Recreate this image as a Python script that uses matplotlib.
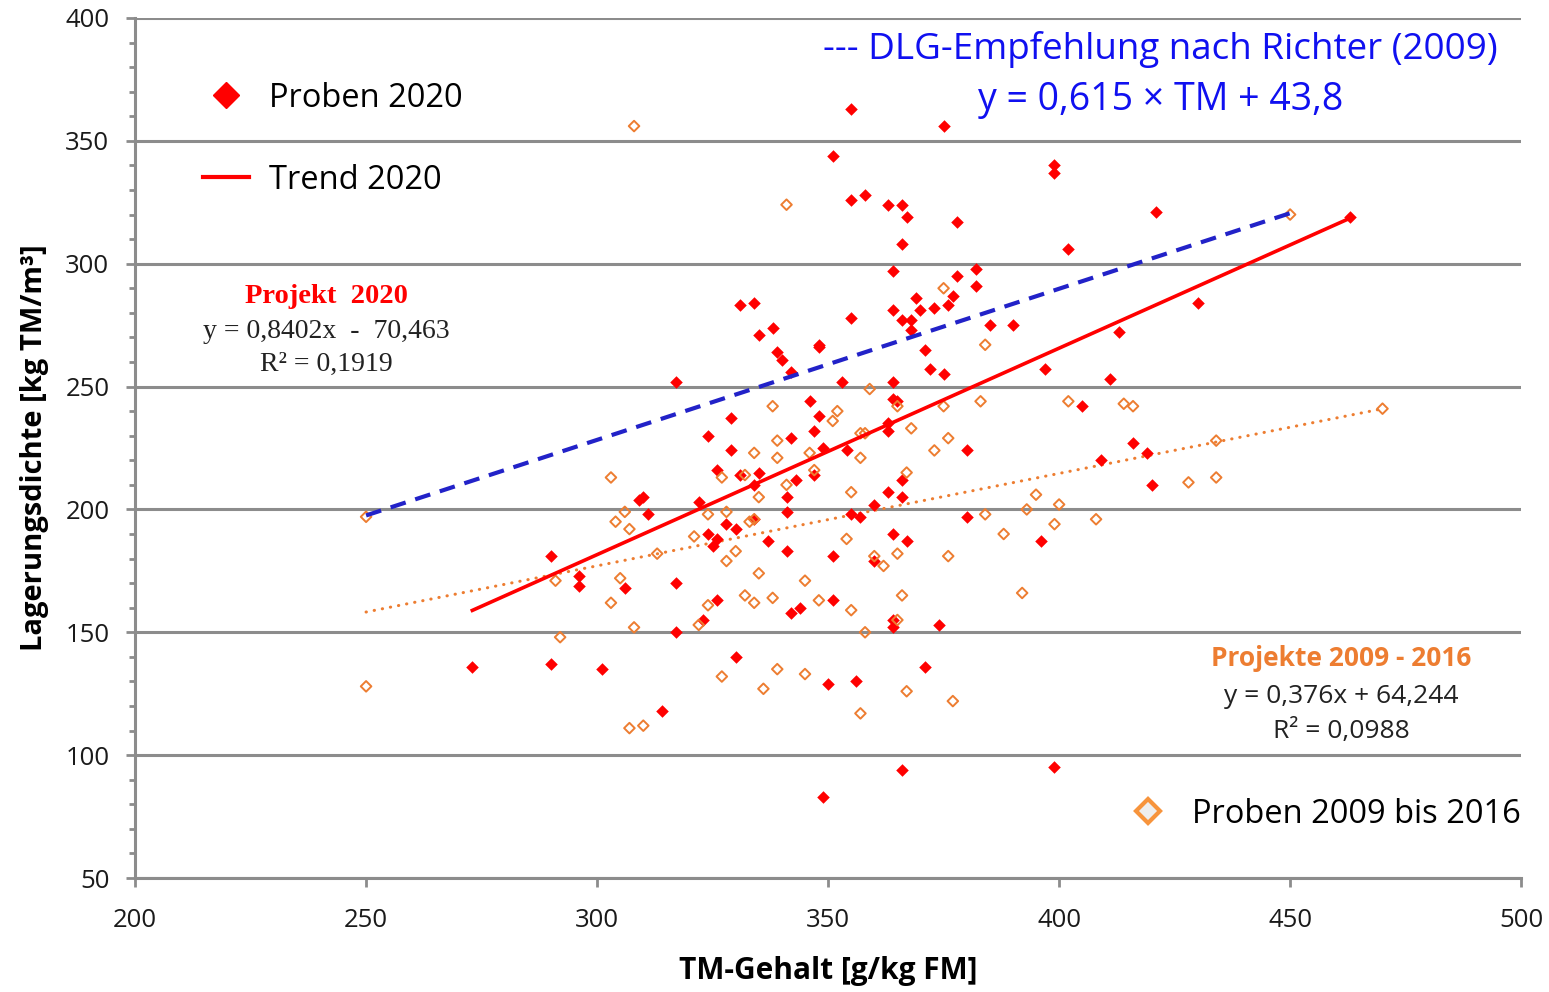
import numpy as np
import matplotlib.pyplot as plt
from matplotlib.lines import Line2D

# TM-Gehalt [g/kg FM] / Lagerungsdichte [kg TM/m3], Proben 2020
tm_2020 = [355, 375, 351, 399, 399, 355, 358, 363, 366, 367, 378, 421, 463, 366, 402,
           364, 378, 382, 382, 369, 377, 376, 373, 370, 364, 355, 366, 368, 368, 385,
           390, 331, 334, 335, 338, 339, 340, 342, 317, 348, 348, 371, 372, 375, 353,
           364, 346, 364, 365, 348, 347, 363, 363, 380, 349, 354, 329, 324, 342, 329,
           430, 413, 397, 411, 405, 416, 419, 409, 420, 396, 399, 326, 331, 335, 334,
           343, 341, 341, 309, 310, 311, 322, 328, 330, 334, 324, 326, 325, 337, 341,
           296, 296, 306, 317, 326, 342, 344, 323, 317, 330, 301, 314, 290, 273, 290,
           347, 366, 363, 366, 360, 355, 357, 380, 364, 367, 351, 360, 351, 364, 364,
           374, 350, 356, 371, 366, 349]
dichte_2020 = [363, 356, 344, 340, 337, 326, 328, 324, 324, 319, 317, 321, 319, 308, 306,
               297, 295, 298, 291, 286, 287, 283, 282, 281, 281, 278, 277, 277, 273, 275,
               275, 283, 284, 271, 274, 264, 261, 256, 252, 267, 266, 265, 257, 255, 252,
               252, 244, 245, 244, 238, 232, 235, 232, 224, 225, 224, 237, 230, 229, 224,
               284, 272, 257, 253, 242, 227, 223, 220, 210, 187, 95, 216, 214, 215, 210,
               212, 205, 199, 204, 205, 198, 203, 194, 192, 196, 190, 188, 185, 187, 183,
               173, 169, 168, 170, 163, 158, 160, 155, 150, 140, 135, 118, 181, 136, 137,
               214, 212, 207, 205, 202, 198, 197, 197, 190, 187, 181, 179, 163, 155, 152,
               153, 129, 130, 136, 94, 83]

# Proben 2009 bis 2016
tm_alt = [308, 341, 450, 375, 384, 359, 365, 352, 351, 375, 383, 357, 358, 368, 376,
          373, 346, 357, 338, 339, 334, 339, 303, 327, 332, 341, 335, 306, 304, 307,
          324, 328, 333, 334, 321, 330, 328, 313, 305, 303, 335, 324, 332, 334, 338,
          345, 322, 308, 339, 345, 327, 336, 307, 310, 250, 291, 292, 250, 470, 402,
          414, 416, 434, 428, 434, 395, 400, 399, 408, 393, 347, 367, 355, 384, 388,
          354, 360, 365, 362, 376, 348, 355, 366, 365, 358, 367, 377, 357, 392]
dichte_alt = [356, 324, 320, 290, 267, 249, 242, 240, 236, 242, 244, 231, 231, 233, 229,
              224, 223, 221, 242, 228, 223, 221, 213, 213, 214, 210, 205, 199, 195, 192,
              198, 199, 195, 196, 189, 183, 179, 182, 172, 162, 174, 161, 165, 162, 164,
              171, 153, 152, 135, 133, 132, 127, 111, 112, 197, 171, 148, 128, 241, 244,
              243, 242, 228, 211, 213, 206, 202, 194, 196, 200, 216, 215, 207, 198, 190,
              188, 181, 182, 177, 181, 163, 159, 165, 155, 150, 126, 122, 117, 166]

# regression / reference lines (slope, intercept)
trend_2020 = (0.8402, -70.463)
trend_alt = (0.376, 64.244)
dlg = (0.615, 43.8)
dlg_tm = [250, 450]

red = '#FF0000'
orange = '#ED7D31'
blue = '#2222C8'
text_blue = '#1010F0'
grid_grey = '#8C8C8C'

plt.rcParams['font.family'] = ['Open Sans', 'DejaVu Sans']

fig = plt.figure(figsize=(15.49, 9.92), dpi=100)
ax = fig.add_axes([0.0872, 0.1149, 0.8948, 0.8670])

ax.set_xlim(200, 500)
ax.set_ylim(50, 400)
ax.set_xticks(np.arange(200, 501, 50))
ax.set_yticks(np.arange(50, 401, 50))
ax.set_yticks(np.arange(50, 401, 10), minor=True)

ax.grid(axis='y', which='major', color=grid_grey, lw=2.2, zorder=0)
for side in ['top', 'right']:
    ax.spines[side].set_visible(False)
for side in ['left', 'bottom']:
    ax.spines[side].set_color(grid_grey)
    ax.spines[side].set_linewidth(2.2)
ax.tick_params(axis='both', which='major', direction='out', length=6.5, width=2,
               color=grid_grey, labelsize=18.5, labelcolor='#1a1a1a')
ax.tick_params(axis='y', which='major', pad=12)
ax.tick_params(axis='x', which='major', pad=15)
ax.tick_params(axis='y', which='minor', direction='out', length=4.3, width=2, color=grid_grey)

# trend lines over the sampled TM range
x20 = np.array([min(tm_2020), max(tm_2020)])
xalt = np.array([min(tm_alt), max(tm_alt)])
xdlg = np.array(dlg_tm)
ax.plot(xalt, trend_alt[0] * xalt + trend_alt[1], color=orange, lw=2.2,
        linestyle=(0, (0.1, 2.6)), dash_capstyle='round', zorder=2.5)

ax.scatter(tm_2020, dichte_2020, marker='D', s=6.4 ** 2, color=red, linewidths=0, zorder=3)
ax.scatter(tm_alt, dichte_alt, marker='D', s=5.4 ** 2, facecolors='none',
           edgecolors=orange, linewidths=1.4, zorder=4)

ax.plot(x20, trend_2020[0] * x20 + trend_2020[1], color=red, lw=2.6, zorder=5)
ax.plot(xdlg, dlg[0] * xdlg + dlg[1], color=blue, lw=3, dashes=(3.8, 2.4), zorder=5)

ax.set_xlabel('TM-Gehalt [g/kg FM]', fontsize=21.5, fontweight='bold', labelpad=17)
ax.set_ylabel('Lagerungsdichte [kg TM/m³]', fontsize=21, fontweight='bold', labelpad=12)

# equation boxes
ax.text(0.740, 0.963, '--- DLG-Empfehlung nach Richter (2009)', transform=ax.transAxes,
        ha='center', va='center', fontsize=26.5, color=text_blue)
ax.text(0.740, 0.905, 'y = 0,615 × TM + 43,8', transform=ax.transAxes,
        ha='center', va='center', fontsize=27, color=text_blue)

serif = ['Liberation Serif', 'DejaVu Serif']
ax.text(0.1378, 0.676, 'Projekt  2020', transform=ax.transAxes, ha='center', va='center',
        fontsize=20.5, fontweight='bold', color=red, family=serif)
ax.text(0.1378, 0.635, 'y = 0,8402x  -  70,463', transform=ax.transAxes, ha='center',
        va='center', fontsize=20, color='#222222', family=serif)
ax.text(0.1378, 0.597, 'R² = 0,1919', transform=ax.transAxes, ha='center', va='center',
        fontsize=20, color='#222222', family=serif)

ax.text(0.870, 0.2547, 'Projekte 2009 - 2016', transform=ax.transAxes, ha='center',
        va='center', fontsize=19, fontweight='bold', color=orange)
ax.text(0.870, 0.2105, 'y = 0,376x + 64,244', transform=ax.transAxes, ha='center',
        va='center', fontsize=19, color='#222222')
ax.text(0.870, 0.1698, 'R² = 0,0988', transform=ax.transAxes, ha='center',
        va='center', fontsize=19, color='#222222')

# legends
h_proben = Line2D([], [], marker='D', color=red, linestyle='none', markersize=13)
h_trend = Line2D([], [], color=red, lw=3)
leg1 = ax.legend([h_proben, h_trend], ['Proben 2020', 'Trend 2020'], loc='upper left',
                 bbox_to_anchor=(0.049, 0.926), frameon=False, fontsize=23.5,
                 handlelength=1.4, handletextpad=0.62, labelspacing=1.5,
                 borderpad=0, borderaxespad=0)
ax.add_artist(leg1)

h_alt = Line2D([], [], marker='D', markerfacecolor='#EEEEEE', markeredgecolor='#F7943C',
               markeredgewidth=3, linestyle='none', markersize=12)
ax.legend([h_alt], ['Proben 2009 bis 2016'], loc='center right', bbox_to_anchor=(1.0, 0.0744),
          frameon=False, fontsize=23.5, handlelength=1.4, handletextpad=0.65,
          borderpad=0, borderaxespad=0)

fig.savefig('out.png', dpi=100)
